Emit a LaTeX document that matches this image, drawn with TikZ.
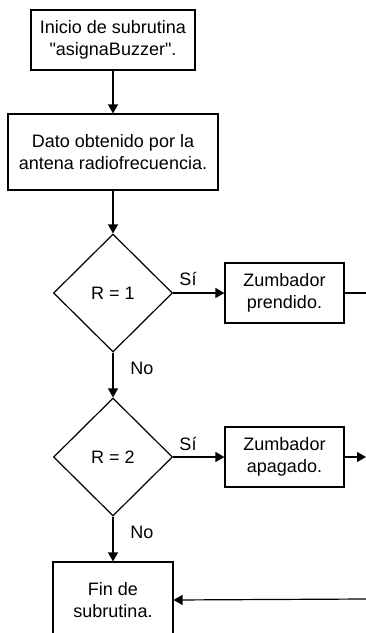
\documentclass[tikz,border=0pt]{standalone}
\usepackage{fontspec}
\setmainfont{Liberation Sans}[Ligatures=TeXOff]
\usetikzlibrary{arrows.meta,positioning,shapes.geometric}
\tikzset{
  stepbox/.style={draw=black,fill=white,line width=1.2pt,
                  align=center,inner sep=0pt,
                  font=\fontsize{18}{21.6}\selectfont},
  decision/.style={diamond,draw=black,fill=white,line width=1.2pt,
                   minimum width=119pt,minimum height=118pt,inner sep=0pt,
                   font=\fontsize{18}{21.6}\selectfont},
  branchlbl/.style={font=\fontsize{18}{21.6}\selectfont,inner sep=0pt},
  flowarr/.style={-{Triangle[length=9pt,width=10pt]},line width=1.2pt},
  flowline/.style={line width=1.2pt}
}

\begin{document}
\begin{tikzpicture}[x=1pt,y=1pt]
  \useasboundingbox (0,0) rectangle (366,-633);
  \clip (0,0) rectangle (366,-633);
  % main column
  \node[stepbox,minimum width=164pt,minimum height=60pt] (ini) at (113,-40)
    {Inicio de subrutina\\"asignaBuzzer".};
  \node[stepbox,minimum width=210pt,minimum height=76pt] (dato) at (113,-152)
    {Dato obtenido por la\\antena radiofrecuencia.};
  \node[decision] (r1) at (113,-293) {R = 1};
  \node[decision] (r2) at (113,-457) {R = 2};
  \node[stepbox,minimum width=120pt,minimum height=76pt] (fin) at (113,-600)
    {Fin de\\subrutina.};
  % buzzer boxes on the yes side
  \node[stepbox,minimum width=119pt,minimum height=60pt] (zon) at (284.5,-293)
    {Zumbador\\prendido.};
  \node[stepbox,minimum width=119pt,minimum height=60pt] (zoff) at (284.5,-457)
    {Zumbador\\apagado.};
  % loose ends at the right border
  \coordinate (outon) at (366,-293);
  \coordinate (outoff) at (366,-457);
  \coordinate (backin) at (366,-599);
  % branch labels
  \foreach \i/\y in {1/-279,2/-444} {
    \node[branchlbl] (si\i) at (188,\y) {Sí};
  }
  \foreach \i/\y in {1/-368,2/-532} {
    \node[branchlbl] (no\i) at (142,\y) {No};
  }
  % connectors
  \draw[flowarr] (ini.south) -- (dato.north);
  \draw[flowarr] (dato.south) -- (r1.north);
  \draw[flowarr] (r1.south) -- (r2.north);
  \draw[flowarr] (r2.south) -- (fin.north);
  \draw[flowarr] (r1.east) -- (zon.west);
  \draw[flowarr] (r2.east) -- (zoff.west);
  \draw[flowline] (zon.east) -- (outon);
  \draw[flowarr] (zoff.east) -- (outoff);
  \draw[flowarr] (backin) -- (fin.east);
\end{tikzpicture}
\end{document}
